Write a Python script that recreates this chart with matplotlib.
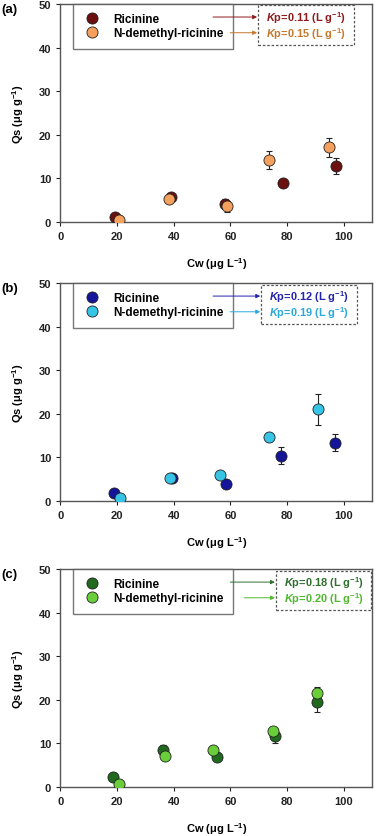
import numpy as np
import matplotlib.pyplot as plt

plt.rcParams['font.family'] = ['Liberation Sans', 'DejaVu Sans']
plt.rcParams['font.weight'] = 'bold'
plt.rcParams['mathtext.fontset'] = 'custom'
plt.rcParams['mathtext.rm'] = 'Liberation Sans:bold'
plt.rcParams['mathtext.bf'] = 'Liberation Sans:bold'
plt.rcParams['mathtext.it'] = 'Liberation Sans:italic:bold'
plt.rcParams['mathtext.bfit'] = 'Liberation Sans:italic:bold'

# panel (a)
a_ric_x = [19.4, 39.1, 58.2, 78.4, 97.4]
a_ric_y = [1.2, 5.7, 4.1, 9.0, 12.8]
a_ric_e = [0.0, 0.3, 1.1, 0.0, 1.8]
a_dem_x = [20.9, 38.5, 58.7, 73.7, 94.8]
a_dem_y = [0.5, 5.3, 3.6, 14.2, 17.1]
a_dem_e = [0.0, 0.0, 1.3, 2.0, 2.1]

# panel (b)
b_ric_x = [19.1, 39.4, 58.5, 77.8, 96.8]
b_ric_y = [1.8, 5.3, 3.9, 10.4, 13.4]
b_ric_e = [0.0, 0.7, 0.0, 2.0, 1.9]
b_dem_x = [21.2, 38.6, 56.4, 73.6, 91.0]
b_dem_y = [0.6, 5.2, 6.0, 14.6, 21.0]
b_dem_e = [0.0, 0.0, 0.0, 0.0, 3.5]

# panel (c)
c_ric_x = [18.8, 36.2, 55.4, 75.7, 90.6]
c_ric_y = [2.2, 8.5, 6.8, 11.6, 19.6]
c_ric_e = [0.0, 1.2, 0.0, 1.5, 2.3]
c_dem_x = [20.8, 36.9, 53.8, 74.9, 90.4]
c_dem_y = [0.7, 7.2, 8.6, 12.8, 21.6]
c_dem_e = [0.0, 0.0, 0.0, 0.0, 1.3]

names = ['Ricinine', 'N-demethyl-ricinine']
kp_a = ['0.11', '0.15']
kp_b = ['0.12', '0.19']
kp_c = ['0.18', '0.20']

panels = [
    ('(a)', a_ric_x, a_ric_y, a_ric_e, a_dem_x, a_dem_y, a_dem_e, kp_a,
     ['#6B0F0F', '#F5A05C'], ['#8E1B1B', '#C8782C'], [0.49, 0.545], (0.635, 0.942)),
    ('(b)', b_ric_x, b_ric_y, b_ric_e, b_dem_x, b_dem_y, b_dem_e, kp_b,
     ['#15159A', '#38C4E4'], ['#2424B0', '#2AA8E0'], [0.49, 0.545], (0.645, 0.952)),
    ('(c)', c_ric_x, c_ric_y, c_ric_e, c_dem_x, c_dem_y, c_dem_e, kp_c,
     ['#1F6A1F', '#6ACD3A'], ['#2F6F2F', '#4FB82E'], [0.545, 0.59], (0.692, 0.997)),
]

fig = plt.figure(figsize=(3.76, 8.37), dpi=100)
bottoms = [0.7336, 0.4002, 0.0585]
H = 0.2605

for (lab, rx, ry, re, dx, dy, de, kp, cols, tcols, arr_x0, box_x), bot in zip(panels, bottoms):
    ax = fig.add_axes([0.16, bot, 0.83, H])
    ax.errorbar(rx, ry, yerr=re, fmt='none', ecolor='#222222', elinewidth=0.8,
                capsize=2.5, capthick=0.8, zorder=2)
    ax.errorbar(dx, dy, yerr=de, fmt='none', ecolor='#222222', elinewidth=0.8,
                capsize=2.5, capthick=0.8, zorder=2)
    ax.plot(rx, ry, 'o', ms=8, mfc=cols[0], mec='#222222', mew=0.6, label=names[0], zorder=3)
    ax.plot(dx, dy, 'o', ms=8, mfc=cols[1], mec='#222222', mew=0.6, label=names[1], zorder=4)

    ax.set_xlim(0, 110)
    ax.set_ylim(0, 50)
    ax.set_xticks([0, 20, 40, 60, 80, 100])
    ax.set_yticks([0, 10, 20, 30, 40, 50])
    for s in ax.spines.values():
        s.set_color('#555555')
        s.set_linewidth(1.0)
    ax.tick_params(direction='out', length=3, width=0.8, labelsize=8, colors='#222222')
    ax.set_xlabel('Cw (μg L$^{-1}$)', fontsize=8, fontweight='bold', labelpad=10)
    ax.set_ylabel('Qs (μg g$^{-1}$)', fontsize=8, fontweight='bold', labelpad=9)

    leg = ax.legend(loc='upper left', bbox_to_anchor=(0.04, 1.0), frameon=True, fancybox=False,
                    edgecolor='#555555', fontsize=8.5, handletextpad=1.0, borderpad=0.8,
                    labelspacing=0.15, borderaxespad=0.0, handlelength=1.6)
    leg.get_frame().set_linewidth(1.0)

    fig.text(0.004, bot + H + 0.001, lab, fontsize=9.5, fontweight='bold',
             ha='left', va='top')

    # Kp box
    ys = [0.94, 0.868]
    box = plt.Rectangle((box_x[0], 0.81), box_x[1] - box_x[0], 0.183,
                        transform=ax.transAxes, fill=False, ls=(0, (2, 1.5)),
                        ec='#555555', lw=0.9, zorder=5)
    ax.add_patch(box)
    kp_cx = (box_x[0] + box_x[1]) / 2
    for i in range(2):
        ax.text(kp_cx, ys[i], '$\\mathit{K}$p=' + kp[i] + ' (L g$^{-1}$)',
                transform=ax.transAxes, color=tcols[i], fontsize=7.9, fontweight='bold',
                ha='center', va='center')
        ax.annotate('', xy=(box_x[0] - 0.004, ys[i]), xytext=(arr_x0[i], ys[i]),
                    xycoords='axes fraction', textcoords='axes fraction', zorder=7,
                    arrowprops=dict(arrowstyle='-|>', color=tcols[i], lw=0.7,
                                    mutation_scale=6, shrinkA=0, shrinkB=0))

fig.savefig('out.png', dpi=100)
